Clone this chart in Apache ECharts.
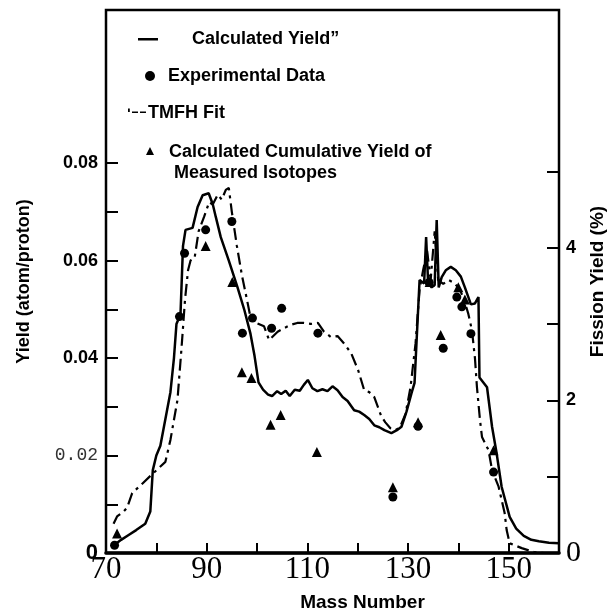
<!DOCTYPE html>
<html>
<head>
<meta charset="utf-8">
<script src="https://cdn.jsdelivr.net/npm/echarts@6/dist/echarts.min.js"></script>
<style>
html,body{margin:0;padding:0;background:#fff;}
#chart{width:614px;height:611px;}
</style>
</head>
<body>
<div id="chart"></div>
<script>
// ---- data ----
const calcMass = [71.6,73,74.5,76,77.8,78.8,79.3,80.0,80.8,81.8,82.8,83.5,84.0,84.8,85.3,85.8,87.2,88.2,89.2,90.4,91.2,91.8,92.8,94.4,96.1,97.5,98.7,99.5,100.3,101.2,102.2,103.0,104.0,104.8,105.7,106.5,107.5,108.5,109.3,110.1,111.0,112.0,113.0,114.0,115.0,116.0,117.0,118.0,119.3,120.3,121.3,122.3,123.3,124.3,125.3,126.7,127.8,128.7,129.7,130.7,131.3,132.3,133.2,133.6,134.0,134.7,135.3,135.7,136.1,136.7,137.5,138.5,139.5,140.5,141.3,142.5,143.3,144.0,144.2,145.7,146.7,147.6,148.6,150.2,151.5,153,154.5,156,158,160];
const calcYield = [0.0016,0.0027,0.0037,0.0047,0.0060,0.0085,0.0170,0.0200,0.0220,0.0275,0.0330,0.0400,0.0470,0.0490,0.0630,0.0663,0.0667,0.0710,0.0734,0.0738,0.0716,0.0690,0.0648,0.0600,0.0546,0.0498,0.0450,0.0405,0.0350,0.0335,0.0325,0.0322,0.0332,0.0326,0.0333,0.0322,0.0335,0.0333,0.0345,0.0355,0.0338,0.0332,0.0336,0.0332,0.0342,0.0334,0.0320,0.0312,0.0293,0.0290,0.0283,0.0275,0.0262,0.0258,0.0252,0.0246,0.0252,0.0259,0.0290,0.0328,0.0349,0.0560,0.0553,0.0648,0.0554,0.0545,0.0550,0.0683,0.0545,0.0566,0.0580,0.0587,0.0580,0.0567,0.0545,0.0510,0.0512,0.0525,0.0360,0.0340,0.0259,0.0205,0.0136,0.0074,0.0050,0.0035,0.0027,0.0024,0.0021,0.0020];

const tmfhMass = [71.5,72.2,73.5,74.2,75.2,77,79,81.8,82.8,84.2,85.0,85.7,86.3,86.8,87.6,88.4,89.5,90.5,91.2,92.2,93.0,93.8,94.4,95.0,96.0,97.0,98.0,98.7,100.1,101.4,102.4,104.1,105.5,106.7,108.0,109.3,110.7,112.1,113.3,114.7,116.0,117.3,118.7,120.1,121.3,122.3,123.3,124.7,125.5,126.5,127.5,128.4,129.5,130.5,131.5,132.3,133.0,133.8,134.5,135.3,136.0,137.0,138.1,139.0,140.0,141.0,142.0,142.7,143.3,143.7,144.3,144.7,146.0,146.7,148.0,149.2,149.6,150.2,152.6,155.0,157.0];
const tmfhYield = [0.0060,0.0075,0.0085,0.0093,0.0123,0.0140,0.0160,0.0187,0.0232,0.0314,0.0420,0.0520,0.0580,0.0600,0.0605,0.0660,0.0690,0.0720,0.0715,0.0735,0.0725,0.0745,0.0749,0.0700,0.0630,0.0570,0.0520,0.0484,0.0471,0.0465,0.0437,0.0454,0.0462,0.0468,0.0472,0.0472,0.0470,0.0472,0.0454,0.0443,0.0445,0.0430,0.0410,0.0375,0.0334,0.0330,0.0320,0.0280,0.0268,0.0256,0.0252,0.0258,0.0285,0.0340,0.0430,0.0540,0.0580,0.0620,0.0560,0.0660,0.0560,0.0552,0.0560,0.0555,0.0545,0.0525,0.0490,0.0457,0.0400,0.0340,0.0273,0.0238,0.0211,0.0170,0.0136,0.0082,0.0047,0.0020,0.0010,0.0002,0.0000];

const expMass  = [71.7,84.6,85.6,89.8,95.0,97.1,99.1,102.9,104.9,112.1,127.0,132.0,134.2,137.0,139.7,140.7,142.5,147.0];
const expYield = [0.0016,0.0485,0.0615,0.0663,0.0680,0.0451,0.0482,0.0461,0.0502,0.0451,0.0115,0.0260,0.0555,0.0420,0.0525,0.0505,0.0450,0.0166];

const cumMass  = [72.2,89.8,95.1,97.0,98.9,102.7,104.7,111.9,127.0,132.0,134.3,136.5,140.0,141.3,147.0];
const cumYield = [0.0040,0.0630,0.0556,0.0371,0.0359,0.0263,0.0283,0.0207,0.0135,0.0268,0.0556,0.0447,0.0545,0.0520,0.0211];

const xTickValues  = [80,90,100,110,120,130,140,150];
const xLabelValues = [70,90,110,130,150];
const leftTickValues  = [0.01,0.02,0.03,0.04,0.05,0.06,0.07,0.08];
const leftLabelValues = [0,0.02,0.04,0.06,0.08];
const leftLabelTexts  = ['0','0.02','0.04','0.06','0.08'];
const rightTickValues  = [1,2,3,4,5];
const rightLabelValues = [0,2,4];
const rightLabelTexts  = ['0','2','4'];

const seriesNames = ['Calculated Yield\u201D','Experimental Data','TMFH Fit','Calculated Cumulative Yield of Measured Isotopes'];

const zip = (a,b) => a.map((v,i) => [v,b[i]]);

const SANS = 'Liberation Sans';
const chart = echarts.init(document.getElementById('chart'), null, {renderer:'canvas'});

const legendText = {color:'#000', fontFamily:SANS, fontWeight:'bold', fontSize:18};
const legendCommon = {padding:0, selectedMode:false, itemStyle:{borderWidth:0}, lineStyle:{width:0}};

chart.setOption({
  animation:false,
  backgroundColor:'#fff',
  grid:{left:106, right:55, top:10, bottom:58, show:true, borderColor:'#000', borderWidth:2.5, outerBoundsMode:'none', containLabel:false},
  legend:[
    Object.assign({data:[{name:seriesNames[0], icon:'path://M0,0H0.01V0.01H0ZM0,6H20V8.5H0ZM0,14H0.01V14.01H0Z'}],
     left:138, top:30, itemWidth:20, itemHeight:14,
     textStyle:Object.assign({padding:[0,0,0,29]}, legendText)}, legendCommon),
    Object.assign({data:[{name:seriesNames[1], icon:'circle'}], left:145, top:67, itemWidth:10, itemHeight:10,
     textStyle:Object.assign({padding:[0,0,0,8]}, legendText)}, legendCommon),
    Object.assign({data:[{name:seriesNames[2], icon:'path://M0,0H0.01V0.01H0ZM0,2.5H1.8V6H0ZM4,5.5H10V7H4ZM12,5.5H18V7H12ZM0,14H0.01V14.01H0Z'}],
     left:128, top:104, itemWidth:18, itemHeight:14,
     textStyle:Object.assign({padding:[0,0,0,-3]}, legendText)}, legendCommon),
    Object.assign({data:[{name:seriesNames[3], icon:'path://M0,0H0.01V0.01H0ZM4,5.5L8,13.5L0,13.5ZM0,42H0.01V42.01H0Z'}],
     left:146, top:141.5, itemWidth:8, itemHeight:42,
     formatter:function(){return 'Calculated Cumulative Yield of\n Measured Isotopes';},
     textStyle:Object.assign({padding:[0,0,0,10], lineHeight:21}, legendText)}, legendCommon)
  ],
  xAxis:{
    type:'value', min:70, max:160, interval:10,
    name:'Mass Number', nameLocation:'middle', nameGap:40,
    nameTextStyle:{fontFamily:SANS, fontWeight:'bold', fontSize:19, color:'#000', padding:[0,0,0,60]},
    axisLine:{onZero:false, lineStyle:{color:'#000', width:3.5}},
    axisTick:{inside:true, length:10, customValues:xTickValues, lineStyle:{color:'#000', width:2}},
    axisLabel:{customValues:xLabelValues, margin:1, fontFamily:'Liberation Serif', fontSize:31, color:'#000'},
    splitLine:{show:false}
  },
  yAxis:[
    {
      type:'value', min:0, max:0.1114, position:'left',
      name:'Yield (atom/proton)', nameLocation:'middle', nameRotate:90, nameGap:73, nameMoveOverlap:false,
      nameTextStyle:{fontFamily:SANS, fontWeight:'bold', fontSize:18, color:'#000'},
      axisLine:{show:true, lineStyle:{color:'#000', width:2}},
      axisTick:{inside:true, length:12, customValues:leftTickValues, lineStyle:{color:'#000', width:2}},
      axisLabel:{
        customValues:leftLabelValues, margin:8,
        formatter:function(v){
          const i = leftLabelValues.findIndex(x => Math.abs(x - v) < 1e-6);
          const t = i >= 0 ? leftLabelTexts[i] : '';
          if (i === 0) return '{z|' + t + '}';
          if (i === 1) return '{m|' + t + '}';
          return '{b|' + t + '}';
        },
        rich:{
          z:{fontFamily:SANS, fontWeight:'bold', fontSize:22, color:'#000'},
          m:{fontFamily:'Liberation Mono', fontSize:18, color:'#333'},
          b:{fontFamily:SANS, fontWeight:'bold', fontSize:18, color:'#000'}
        }
      },
      splitLine:{show:false}
    },
    {
      type:'value', min:0, max:7.12, position:'right',
      name:'Fission Yield (%)', nameLocation:'middle', nameRotate:90, nameGap:29, nameMoveOverlap:false,
      nameTextStyle:{fontFamily:SANS, fontWeight:'bold', fontSize:19, color:'#000'},
      axisLine:{show:true, lineStyle:{color:'#000', width:2}},
      axisTick:{inside:true, length:12, customValues:rightTickValues, lineStyle:{color:'#000', width:2}},
      axisLabel:{
        customValues:rightLabelValues, margin:7,
        formatter:function(v){
          const i = rightLabelValues.findIndex(x => Math.abs(x - v) < 1e-6);
          const t = i >= 0 ? rightLabelTexts[i] : '';
          return i === 0 ? '{s|' + t + '}' : '{b|' + t + '}';
        },
        rich:{
          s:{fontFamily:'Liberation Serif', fontSize:30, color:'#000'},
          b:{fontFamily:SANS, fontWeight:'bold', fontSize:18, color:'#000'}
        }
      },
      splitLine:{show:false}
    }
  ],
  series:[
    {name:seriesNames[0], type:'line', yAxisIndex:0, data:zip(calcMass, calcYield), showSymbol:false, symbol:'none',
     lineStyle:{color:'#000', width:2.5}, itemStyle:{color:'#000'}, z:3},
    {name:seriesNames[1], type:'scatter', yAxisIndex:0, data:zip(expMass, expYield), symbol:'circle', symbolSize:9,
     itemStyle:{color:'#000', opacity:1}, z:5},
    {name:seriesNames[2], type:'line', yAxisIndex:0, data:zip(tmfhMass, tmfhYield), showSymbol:false, symbol:'none',
     lineStyle:{color:'#000', width:2.2, type:[12,5,3,5]}, itemStyle:{color:'#000'}, z:3},
    {name:seriesNames[3], type:'scatter', yAxisIndex:0, data:zip(cumMass, cumYield), symbol:'triangle', symbolSize:10,
     itemStyle:{color:'#000', opacity:1}, z:5}
  ]
});
</script>
</body>
</html>
